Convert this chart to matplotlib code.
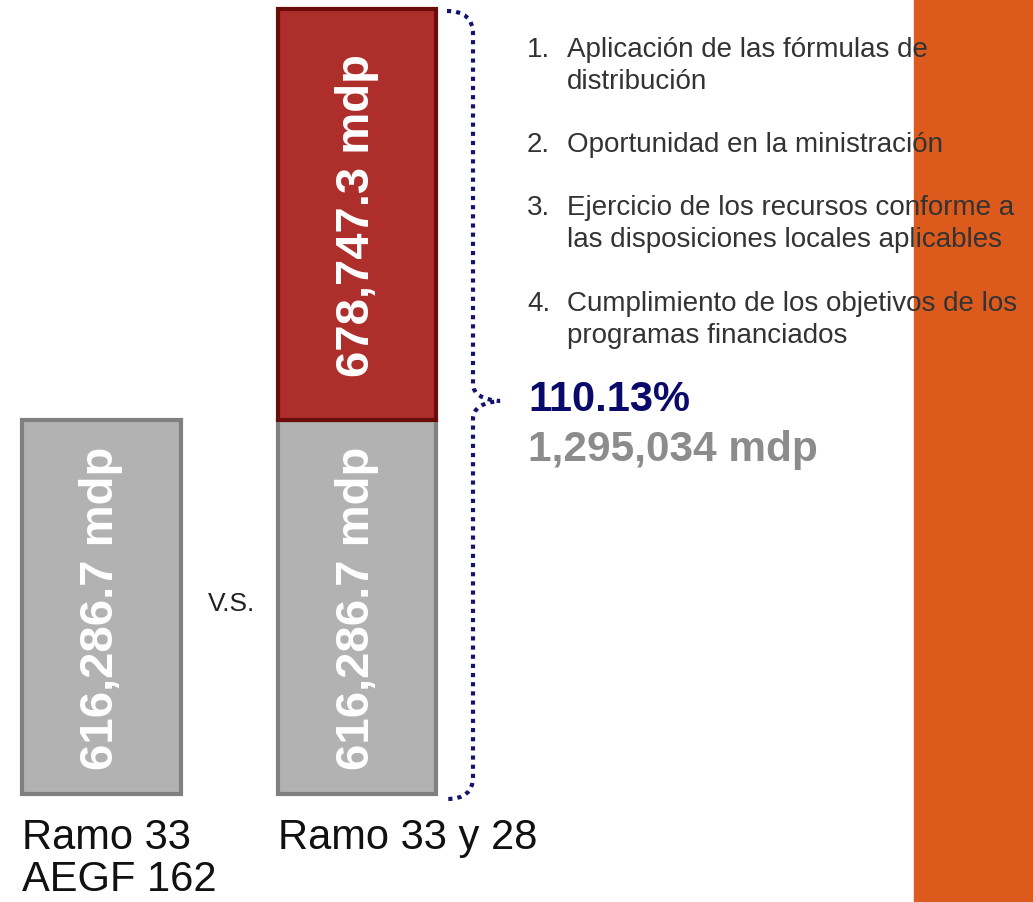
import matplotlib.pyplot as plt
from matplotlib.patches import Rectangle, PathPatch
from matplotlib.path import Path

plt.rcParams["font.family"] = ["Liberation Sans", "DejaVu Sans"]

# data
categories = [["Ramo 33", "AEGF 162"], ["Ramo 33 y 28"]]
ramo33 = [616286.7, 616286.7]
ramo28 = [0.0, 678747.3]
total_label = "1,295,034 mdp"
pct_label = "110.13%"
items = [
    ["Aplicación de las fórmulas de", "distribución"],
    ["Oportunidad en la ministración"],
    ["Ejercicio de los recursos conforme a", "las disposiciones locales aplicables"],
    ["Cumplimiento de los objetivos de los", "programas financiados"],
]

W, H = 1033, 903
fig = plt.figure(figsize=(W / 100, H / 100), dpi=100)

# overlay in pixel coordinates for decorations / text
ov = fig.add_axes([0, 0, 1, 1])
ov.set_xlim(0, W)
ov.set_ylim(H, 0)
ov.axis("off")
ov.add_patch(Rectangle((914, 0), W - 914, H, color="#DC5A1C", zorder=0))

# bars
ax = fig.add_axes([0, (H - 795) / H, 500 / W, 785 / H])
ax.patch.set_alpha(0)
x = [0, 1]
ax.bar(x, ramo33, width=0.622, color="#B2B2B2", edgecolor="#808080", linewidth=3, clip_on=False)
ax.bar(x[1], ramo28[1], bottom=ramo33[1], width=0.622, color="#AE2E2C",
       edgecolor="#6A0C0A", linewidth=3, clip_on=False)
ax.set_xlim(-101.5 / 255.5, (500 - 101.5) / 255.5)
ax.set_ylim(0, ramo33[1] + ramo28[1])
ax.axis("off")

for xi, v in zip(x, ramo33):
    ax.text(xi, v / 2, f"{v:,.1f} mdp", rotation=90, ha="center", va="center",
            color="white", fontsize=34, fontweight="bold")
ax.text(x[1], ramo33[1] + ramo28[1] / 2, f"{ramo28[1]:,.1f} mdp", rotation=90,
        ha="center", va="center", color="white", fontsize=34, fontweight="bold")

# category labels
for x0, lines in zip([22, 278], categories):
    for j, line in enumerate(lines):
        ov.text(x0, 849 + 42 * j, line, ha="left", va="baseline", fontsize=30, color="#111111")
ov.text(232, 611, "V.S.", ha="center", va="baseline", fontsize=19, color="#222222")

# brace
verts = [(447, 12), (473, 12), (473, 35), (473, 385), (473, 400), (500, 402),
         (473, 404), (473, 420), (473, 778), (473, 800), (447, 800)]
codes = [Path.MOVETO, Path.CURVE3, Path.CURVE3, Path.LINETO, Path.CURVE3, Path.CURVE3,
         Path.CURVE3, Path.CURVE3, Path.LINETO, Path.CURVE3, Path.CURVE3]
ov.add_patch(PathPatch(Path(verts, codes), fill=False, edgecolor="#14146E",
                       linewidth=3, linestyle=(0, (1, 1.2)), zorder=3))

# list text
y_pos = [47, 142, 205, 301]
for i, (yy, lines) in enumerate(zip(y_pos, items)):
    ov.text(527, yy + 10, f"{i + 1}.", ha="left", va="baseline", fontsize=20,
            color="#333333", zorder=4)
    for j, line in enumerate(lines):
        ov.text(567, yy + 10 + 32 * j, line, ha="left", va="baseline", fontsize=20,
                color="#333333", zorder=4)

ov.text(528, 400, pct_label, ha="left", va="center", fontsize=30, fontweight="bold",
        color="#0A0A6A")
ov.text(528, 450, total_label, ha="left", va="center", fontsize=30.5, fontweight="bold",
        color="#8C8C8C")

fig.savefig("out.png", dpi=100)
